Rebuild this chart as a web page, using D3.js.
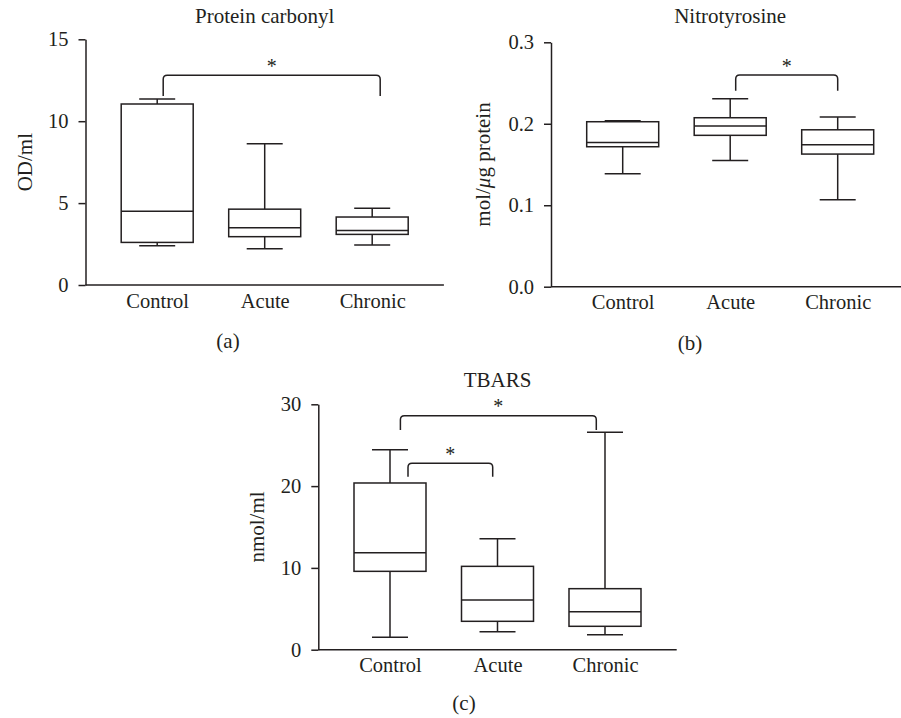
<!DOCTYPE html>
<html>
<head>
<meta charset="utf-8">
<script src="https://cdn.jsdelivr.net/npm/d3@7"></script>
<style>
  html, body { margin: 0; padding: 0; background: #fff; }
  svg { display: block; }
</style>
</head>
<body>
<svg id="chart" width="901" height="718" style="font-family:'Liberation Serif'"></svg>
<script>
// ---- data ----
const categories = ["Control", "Acute", "Chronic"];

// Protein carbonyl (OD/ml)
const pcMin    = [2.40, 2.21, 2.44];
const pcQ1     = [2.60, 2.95, 3.09];
const pcMedian = [4.51, 3.49, 3.33];
const pcQ3     = [11.05, 4.63, 4.15];
const pcMax    = [11.36, 8.62, 4.68];
const pcTicks  = [0, 5, 10, 15];

// Nitrotyrosine (mol/µg protein)
const ntMin    = [0.1387, 0.155, 0.1067];
const ntQ1     = [0.1718, 0.1858, 0.1628];
const ntMedian = [0.177, 0.1972, 0.1742];
const ntQ3     = [0.2025, 0.2074, 0.1926];
const ntMax    = [0.2037, 0.2307, 0.2082];
const ntTicks  = [0.0, 0.1, 0.2, 0.3];

// TBARS (nmol/ml)
const tbMin    = [1.51, 2.20, 1.83];
const tbQ1     = [9.58, 3.47, 2.86];
const tbMedian = [11.86, 6.08, 4.65];
const tbQ3     = [20.38, 10.19, 7.46];
const tbMax    = [24.45, 13.57, 26.58];
const tbTicks  = [0, 10, 20, 30];

// significance brackets: [from, to, top value, leg-end value]
const pcSig = [["Control", "Chronic", 12.8, 11.54]];
const ntSig = [["Acute", "Chronic", 0.2598, 0.2405]];
const tbSig = [["Control", "Chronic", 28.6, 26.86], ["Control", "Acute", 22.79, 21.15]];

// ---- layout ----
const INK = "#231f20";
const FONT = "'Liberation Serif', 'Times New Roman', serif";
const panels = [
  { title: "Protein carbonyl", ylabel: "OD/ml", tag: "(a)",
    min: pcMin, q1: pcQ1, med: pcMedian, q3: pcQ3, max: pcMax, ticks: pcTicks, fmt: d3.format("d"),
    sig: pcSig, sigOff: [[6, 8]],
    x0: 85.5, y0: 285, yTop: 39.3, domainMax: 15, ylabX: 25, tagX: 228, tagY: 348, titleY: 23 },
  { title: "Nitrotyrosine", ylabel: "mol/\u03BCg protein", tag: "(b)", italicMu: true,
    min: ntMin, q1: ntQ1, med: ntMedian, q3: ntQ3, max: ntMax, ticks: ntTicks, fmt: d3.format(".1f"),
    sig: ntSig, sigOff: [[5.5, 0]],
    x0: 551, y0: 286.7, yTop: 42.3, domainMax: 0.3, ylabX: 483, tagX: 690, tagY: 350, titleY: 23 },
  { title: "TBARS", ylabel: "nmol/ml", tag: "(c)",
    min: tbMin, q1: tbQ1, med: tbMedian, q3: tbQ3, max: tbMax, ticks: tbTicks, fmt: d3.format("d"),
    sig: tbSig, sigOff: [[10.4, -8.7], [18, -4.8]],
    x0: 318.3, y0: 649.7, yTop: 404.3, domainMax: 30, ylabX: 257, tagX: 464, tagY: 710, titleY: 387 }
];

const svg = d3.select("#chart");
const axisLen = 358.4, boxW = 72, capW = 36, sw = 1.5;

function styleText(sel, size) {
  return sel.style("font-family", FONT).style("font-size", (size || 20) + "px").style("fill", INK);
}

panels.forEach(p => {
  const g = svg.append("g");
  const x = d3.scalePoint().domain(categories).range([p.x0, p.x0 + axisLen]).padding(0.667);
  const y = d3.scaleLinear().domain([0, p.domainMax]).range([p.y0, p.yTop]);

  // y axis
  const ya = g.append("g").attr("transform", `translate(${p.x0},0)`)
    .call(d3.axisLeft(y).tickValues(p.ticks).tickFormat(p.fmt).tickSize(7).tickSizeOuter(0).tickPadding(10));
  ya.attr("font-family", null).attr("font-size", null);
  ya.selectAll("path, line").attr("stroke", INK).attr("stroke-width", sw);
  styleText(ya.selectAll("text"), 20.5);

  // x axis
  const xa = g.append("g").attr("transform", `translate(0,${p.y0})`)
    .call(d3.axisBottom(x).tickSize(0).tickSizeOuter(0).tickPadding(8));
  xa.attr("font-family", null).attr("font-size", null);
  xa.select("path.domain").attr("d", `M${p.x0},0H${p.x0 + axisLen}`).attr("stroke", INK).attr("stroke-width", sw);
  styleText(xa.selectAll("text"), 20.5);

  // boxes
  categories.forEach((c, i) => {
    const cx = x(c);
    const bg = g.append("g").attr("stroke", INK).attr("stroke-width", sw).attr("fill", "none");
    bg.append("line").attr("x1", cx).attr("x2", cx).attr("y1", y(p.q3[i])).attr("y2", y(p.max[i]));
    bg.append("line").attr("x1", cx).attr("x2", cx).attr("y1", y(p.q1[i])).attr("y2", y(p.min[i]));
    bg.append("line").attr("x1", cx - capW / 2).attr("x2", cx + capW / 2).attr("y1", y(p.max[i])).attr("y2", y(p.max[i]));
    bg.append("line").attr("x1", cx - capW / 2).attr("x2", cx + capW / 2).attr("y1", y(p.min[i])).attr("y2", y(p.min[i]));
    bg.append("rect").attr("x", cx - boxW / 2).attr("width", boxW)
      .attr("y", y(p.q3[i])).attr("height", y(p.q1[i]) - y(p.q3[i])).attr("fill", "#fff");
    bg.append("line").attr("x1", cx - boxW / 2).attr("x2", cx + boxW / 2).attr("y1", y(p.med[i])).attr("y2", y(p.med[i]));
  });

  // significance brackets
  p.sig.forEach((s, k) => {
    const xa1 = x(s[0]) + p.sigOff[k][0], xa2 = x(s[1]) + p.sigOff[k][1];
    const yt = y(s[2]), yl = y(s[3]), r = 4;
    g.append("path")
      .attr("d", `M${xa1},${yl}V${yt + r}Q${xa1},${yt} ${xa1 + r},${yt}H${xa2 - r}Q${xa2},${yt} ${xa2},${yt + r}V${yl}`)
      .attr("fill", "none").attr("stroke", INK).attr("stroke-width", sw);
    styleText(g.append("text").attr("x", (xa1 + xa2) / 2).attr("y", yt - 2.5)
      .attr("text-anchor", "middle").text("*"));
  });

  // title
  styleText(g.append("text").attr("x", (x(categories[0]) + x(categories[2])) / 2).attr("y", p.titleY)
    .attr("text-anchor", "middle").text(p.title), 21);

  // y label
  const yl = styleText(g.append("text").attr("transform", `translate(${p.ylabX},${(p.y0 + p.yTop) / 2}) rotate(-90)`)
    .attr("text-anchor", "middle").attr("dy", "0.35em"), 21);
  if (p.italicMu) {
    yl.append("tspan").text("mol/");
    yl.append("tspan").style("font-style", "italic").text("\u03BC");
    yl.append("tspan").text("g protein");
  } else {
    yl.text(p.ylabel);
  }

  // panel tag
  styleText(g.append("text").attr("x", p.tagX).attr("y", p.tagY).attr("text-anchor", "middle").text(p.tag), 21);
});
</script>
</body>
</html>
